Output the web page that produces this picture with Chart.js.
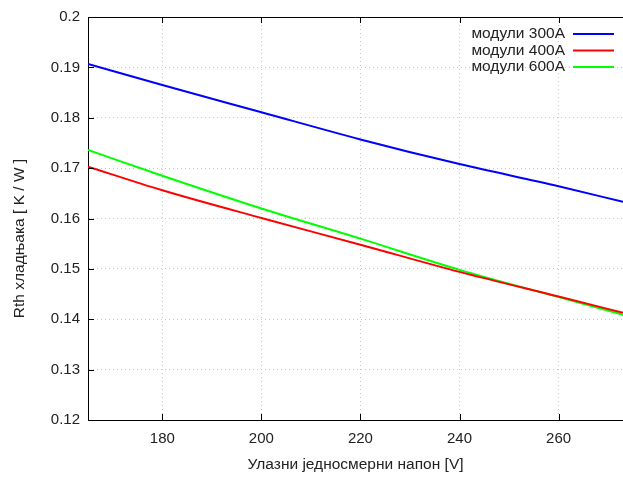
<!DOCTYPE html>
<html>
<head>
<meta charset="utf-8">
<script src="https://cdn.jsdelivr.net/npm/chart.js@4/dist/chart.umd.min.js"></script>
<style>
  html, body { margin: 0; padding: 0; background: #fff; }
  #wrap { width: 623px; height: 477px; }
</style>
</head>
<body>
<div id="wrap"><canvas id="rth"></canvas></div>
<script>
// thermal resistance of the heatsink vs. DC input voltage
const voltage = [165, 180, 200, 220, 240, 260, 273];
const rth300 = [0.1907, 0.1865, 0.1811, 0.1757, 0.1708, 0.1664, 0.1633];
const rth400 = [0.1703, 0.1656, 0.1601, 0.1548, 0.1494, 0.1445, 0.1413];
const rth600 = [0.1736, 0.1685, 0.1620, 0.1560, 0.1498, 0.1444, 0.1409];

const seriesLabels = ['модули 300А', 'модули 400А', 'модули 600А'];
const seriesColors = ['#0000ff', '#ff0000', '#00ff00'];

const xTicks = [180, 200, 220, 240, 260];
const yTicks = [0.12, 0.13, 0.14, 0.15, 0.16, 0.17, 0.18, 0.19, 0.2];

const xTitle = 'Улазни једносмерни напон [V]';
const yTitle = 'Rth хладњака [ K / W ]';

const FONT = "'Liberation Sans', Arial, sans-serif";

function toPoints(ys) {
  return voltage.map((v, i) => ({ x: v, y: ys[i] }));
}

// top border, inward tick marks, y label (centred on the canvas) and the key
const framePlugin = {
  id: 'frame',
  afterDatasetsDraw(chart) {
    const { ctx, chartArea: a, scales: { x, y } } = chart;
    ctx.save();
    ctx.strokeStyle = '#000';
    ctx.lineWidth = 1;
    ctx.beginPath();
    ctx.moveTo(a.left, a.top + 0.5);
    ctx.lineTo(a.right, a.top + 0.5);
    xTicks.forEach(v => {
      const px = Math.round(x.getPixelForValue(v)) + 0.5;
      ctx.moveTo(px, a.bottom);
      ctx.lineTo(px, a.bottom - 6);
      ctx.moveTo(px, a.top);
      ctx.lineTo(px, a.top + 6);
    });
    yTicks.forEach(v => {
      const py = Math.round(y.getPixelForValue(v)) + 0.5;
      ctx.moveTo(a.left, py);
      ctx.lineTo(a.left + 6, py);
    });
    ctx.stroke();

    ctx.font = '15.5px ' + FONT;
    ctx.fillStyle = '#222';
    ctx.textBaseline = 'middle';

    ctx.save();
    ctx.translate(20, chart.height / 2);
    ctx.rotate(-Math.PI / 2);
    ctx.textAlign = 'center';
    ctx.fillText(yTitle, 0, 0);
    ctx.restore();

    ctx.textAlign = 'right';
    chart.data.datasets.forEach((ds, i) => {
      const rowY = a.top + 17 + i * 16.5;
      ctx.fillStyle = '#222';
      ctx.fillText(ds.label, a.right - 58, rowY);
      ctx.strokeStyle = ds.borderColor;
      ctx.lineWidth = 2;
      ctx.beginPath();
      ctx.moveTo(a.right - 50, rowY);
      ctx.lineTo(a.right - 9, rowY);
      ctx.stroke();
    });
    ctx.restore();
  }
};

const chartData = {
  datasets: [rth300, rth400, rth600].map((ys, i) => ({
    label: seriesLabels[i],
    data: toPoints(ys),
    borderColor: seriesColors[i],
    backgroundColor: seriesColors[i],
    borderWidth: 2,
    pointRadius: 0,
    cubicInterpolationMode: 'monotone'
  }))
};

const config = {
  type: 'line',
  data: chartData,
  options: {
    responsive: true,
    maintainAspectRatio: false,
    animation: false,
    layout: { padding: { top: 14, right: 0, left: 0, bottom: 0 } },
    plugins: {
      legend: { display: false },
      tooltip: { enabled: false }
    },
    scales: {
      x: {
        type: 'linear',
        min: 165,
        max: 273,
        afterBuildTicks: scale => { scale.ticks = xTicks.map(v => ({ value: v })); },
        afterFit: scale => { scale.height = 57; },
        grid: { color: '#c8c8c8', drawTicks: false },
        border: { color: '#000', width: 1, dash: [1, 3] },
        ticks: {
          padding: 10,
          color: '#222',
          font: { family: FONT, size: 15 },
          maxRotation: 0,
          callback: v => String(v)
        },
        title: {
          display: true,
          text: xTitle,
          color: '#222',
          font: { family: FONT, size: 15.5 },
          padding: { top: 0, bottom: 3 }
        }
      },
      y: {
        min: 0.12,
        max: 0.2,
        afterBuildTicks: scale => { scale.ticks = yTicks.map(v => ({ value: v })); },
        afterFit: scale => { scale.width = 88; },
        grid: { color: '#c8c8c8', drawTicks: false },
        border: { color: '#000', width: 1, dash: [1, 3] },
        ticks: {
          padding: 8,
          color: '#222',
          font: { family: FONT, size: 15 },
          callback: v => String(v)
        }
      }
    }
  },
  plugins: [framePlugin]
};

new Chart(document.getElementById('rth'), config);
</script>
</body>
</html>
